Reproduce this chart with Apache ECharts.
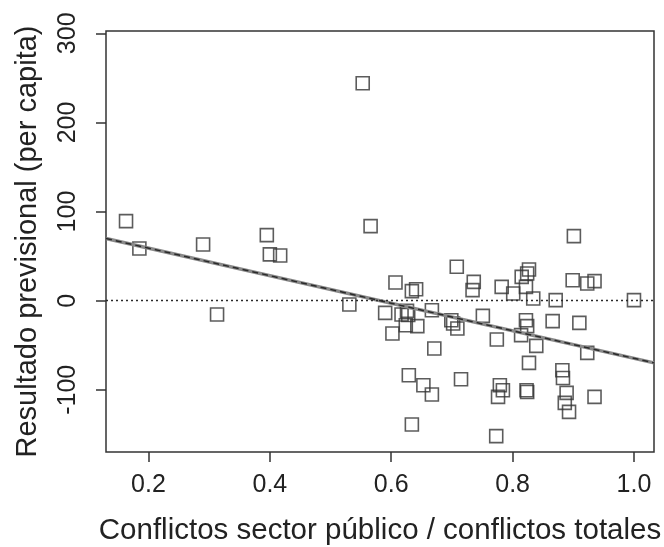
<!DOCTYPE html>
<html>
<head>
<meta charset="utf-8">
<title>echarts</title>
<script src="https://cdn.jsdelivr.net/npm/echarts@6/dist/echarts.min.js"></script>
</head>
<style>
html,body{margin:0;padding:0;background:#fff;}
#container{
    height:547px;
    width:664px;
}
</style>
<body>
<div id="container"></div>
<script>
    // conflictos sector público / conflictos totales
    var ratio = [0.163,0.185,0.290,0.313,0.395,0.400,0.417,0.553,0.566,0.531,
                 0.590,0.607,0.602,0.634,0.641,0.617,0.626,0.628,0.624,0.643,
                 0.667,0.699,0.702,0.709,0.708,0.736,0.734,0.751,0.774,0.671,
                 0.629,0.653,0.667,0.715,0.779,0.784,0.776,0.634,0.773,0.901,
                 0.827,0.824,0.815,0.782,0.801,0.822,0.834,0.871,0.899,0.923,
                 0.935,1.000,0.822,0.824,0.814,0.866,0.910,0.839,0.923,0.827,
                 0.882,0.883,0.823,0.824,0.889,0.886,0.893,0.935];
    // resultado previsional per capita
    var resultado = [89.3,58.6,63,-15.5,73.5,51.9,50.7,243.9,83.6,-4.3,
                     -13.7,20.4,-36.8,10.7,12.9,-15.5,-11.5,-16,-27.5,-28.6,
                     -10.7,-21.9,-25.6,-31.2,38.0,21.1,11.8,-17.0,-43.6,-53.7,
                     -83.6,-94.9,-105.3,-88.1,-94.9,-100.5,-108,-139,-152,72.4,
                     35,30.5,26.7,15.5,8.1,15.5,2.5,0.6,23,19.3,
                     21.9,0.6,-21.9,-28.6,-38.7,-23,-24.9,-50.7,-58.6,-69.8,
                     -78,-86.7,-100.5,-102.4,-103.5,-114.7,-124.8,-108];
    // recta de regresión (extremos)
    var fitX = [0.13, 1.033];
    var fitY = [69.8, -69.8];
    var xTicks = [0.2, 0.4, 0.6, 0.8, 1.0];
    var yTicks = [-100, 0, 100, 200, 300];

    var points = ratio.map(function(v, i){ return [v, resultado[i]]; });
    var fitLine = fitX.map(function(v, i){ return [v, fitY[i]]; });

    var font = 'Liberation Sans';
    var option = {
        animation: false,
        grid: {
            left: 106,
            right: 10,
            top: 31,
            bottom: 95,
            outerBoundsMode: 'none',
            show: true,
            borderColor: '#333',
            borderWidth: 1.5,
            backgroundColor: 'transparent'
        },
        xAxis: {
            type: 'value',
            min: 0.13,
            max: 1.033,
            name: 'Conflictos sector público / conflictos totales',
            nameLocation: 'middle',
            nameGap: 64,
            nameTextStyle: { fontFamily: font, fontSize: 29.5, color: '#222' },
            axisLine: { show: false, onZero: false },
            splitLine: { show: false },
            axisTick: { show: true, length: 10, customValues: xTicks, lineStyle: { color: '#333', width: 1.5 } },
            axisLabel: {
                customValues: xTicks,
                margin: 21,
                fontFamily: font, fontSize: 25, color: '#222',
                formatter: function(v){ return v.toFixed(1); }
            }
        },
        yAxis: {
            type: 'value',
            min: -169.8,
            max: 302.6,
            name: 'Resultado previsional (per capita)',
            nameLocation: 'middle',
            nameGap: 64,
            nameRotate: 90,
            nameTextStyle: { fontFamily: font, fontSize: 29, color: '#222' },
            axisLine: { show: false, onZero: false },
            splitLine: { show: false },
            axisTick: { show: true, length: 10, customValues: yTicks, lineStyle: { color: '#333', width: 1.5 } },
            axisLabel: {
                customValues: yTicks,
                rotate: 90,
                margin: 25,
                fontFamily: font, fontSize: 25, color: '#222'
            }
        },
        series: [
            {
                type: 'line',
                data: fitLine,
                symbol: 'none',
                silent: true,
                lineStyle: { color: '#8a8a8a', width: 3.5 },
                markLine: {
                    silent: true,
                    symbol: 'none',
                    label: { show: false },
                    lineStyle: { color: '#2a2a2a', width: 1.4, type: [2, 3] },
                    data: [{ yAxis: 0 }]
                }
            },
            {
                type: 'line',
                data: fitLine,
                symbol: 'none',
                silent: true,
                lineStyle: { color: '#2a2a2a', width: 1.5, type: [6, 4] }
            },
            {
                type: 'scatter',
                data: points,
                symbol: 'rect',
                symbolSize: 13,
                itemStyle: {
                    color: 'rgba(0,0,0,0)',
                    borderColor: '#333',
                    borderWidth: 1.6
                }
            }
        ]
    };
    var myChart = echarts.init(document.getElementById("container"));
    myChart.setOption(option, true);
</script>
</body>
</html>
